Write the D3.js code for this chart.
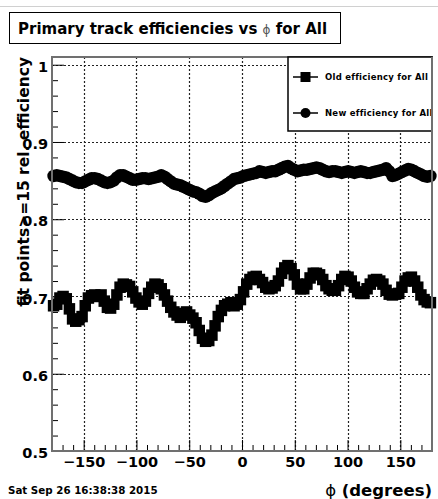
<!DOCTYPE html>
<html>
<head>
<meta charset="utf-8">
<script src="https://cdn.jsdelivr.net/npm/d3@7"></script>
<style>
  body { margin: 0; background: #fff; }
  text { font-family: "DejaVu Sans", sans-serif; font-weight: bold; }
</style>
</head>
<body>
<div id="chart"></div>
<script>
(function(){
  var width = 438,
    height = 499;

  // 120 bins of 3 degrees over -180..180, centres built from the bin edges
  var nBins = 120;
  var phi = d3.range(nBins).map(function(i){ return -178.5 + 3 * i; });

  var oldEff = [0.688, 0.690, 0.698, 0.700, 0.697, 0.684, 0.671, 0.668, 0.670, 0.674,
    0.688, 0.698, 0.701, 0.702, 0.700, 0.702, 0.694, 0.686, 0.685, 0.690,
    0.702, 0.712, 0.716, 0.715, 0.713, 0.706, 0.698, 0.693, 0.690, 0.694,
    0.704, 0.712, 0.716, 0.715, 0.710, 0.702, 0.694, 0.686, 0.680, 0.676,
    0.673, 0.678, 0.680, 0.676, 0.672, 0.666, 0.656, 0.646, 0.642, 0.643,
    0.650, 0.662, 0.674, 0.682, 0.688, 0.690, 0.692, 0.688, 0.690, 0.696,
    0.706, 0.716, 0.722, 0.725, 0.726, 0.722, 0.718, 0.712, 0.710, 0.711,
    0.714, 0.720, 0.730, 0.737, 0.740, 0.736, 0.728, 0.716, 0.710, 0.710,
    0.716, 0.724, 0.730, 0.730, 0.728, 0.722, 0.714, 0.710, 0.708, 0.708,
    0.714, 0.722, 0.726, 0.725, 0.720, 0.712, 0.706, 0.704, 0.704, 0.710,
    0.716, 0.721, 0.722, 0.720, 0.716, 0.708, 0.703, 0.702, 0.703, 0.704,
    0.712, 0.720, 0.724, 0.725, 0.720, 0.712, 0.702, 0.696, 0.693, 0.692];

  var newEff = [0.856, 0.857, 0.856, 0.855, 0.854, 0.852, 0.850, 0.848, 0.847, 0.847,
    0.849, 0.851, 0.853, 0.853, 0.852, 0.850, 0.848, 0.847, 0.848, 0.850,
    0.854, 0.857, 0.857, 0.855, 0.853, 0.851, 0.851, 0.852, 0.853, 0.853,
    0.852, 0.853, 0.854, 0.855, 0.857, 0.855, 0.852, 0.849, 0.846, 0.845,
    0.844, 0.842, 0.840, 0.838, 0.836, 0.835, 0.833, 0.830, 0.829, 0.831,
    0.834, 0.836, 0.838, 0.840, 0.843, 0.846, 0.849, 0.852, 0.853, 0.854,
    0.856, 0.857, 0.858, 0.859, 0.860, 0.862, 0.861, 0.860, 0.861, 0.862,
    0.862, 0.864, 0.866, 0.868, 0.869, 0.866, 0.864, 0.862, 0.863, 0.864,
    0.864, 0.865, 0.866, 0.867, 0.866, 0.864, 0.862, 0.861, 0.862, 0.862,
    0.861, 0.860, 0.861, 0.862, 0.861, 0.860, 0.861, 0.862, 0.861, 0.860,
    0.860, 0.861, 0.862, 0.863, 0.864, 0.866, 0.862, 0.856, 0.857, 0.859,
    0.861, 0.863, 0.865, 0.864, 0.862, 0.860, 0.858, 0.856, 0.855, 0.856];

  var xTicks = [-150, -100, -50, 0, 50, 100, 150];
  var yTicks = [0.5, 0.6, 0.7, 0.8, 0.9, 1];
  var yTickLabels = ["0.5", "0.6", "0.7", "0.8", "0.9", "1"];
  var legendLabels = ["Old efficiency for All", "New efficiency for All"];

  var frame = {left: 52, right: 432, top: 57, bottom: 451};

  var svg = d3.select("#chart")
    .append("svg")
    .attr("width", width)
    .attr("height", height);

  // faint line at the top of the canvas
  svg.append("line")
    .attr("x1", 0).attr("x2", width)
    .attr("y1", 6.5).attr("y2", 6.5)
    .attr("stroke", "#d0d0d0");

  var x = d3.scaleLinear().domain([-180, 180]).range([frame.left, frame.right]);
  var y = d3.scaleLinear().domain([0.5, 1.01]).range([frame.bottom, frame.top]);

  function snap(v){ return Math.round(v) + 0.5; }

  // grid (dotted)
  svg.selectAll(".gx")
    .data(xTicks)
    .enter().append("line")
    .attr("class", "gx")
    .attr("x1", function(d){ return snap(x(d)); })
    .attr("x2", function(d){ return snap(x(d)); })
    .attr("y1", frame.top)
    .attr("y2", frame.bottom)
    .style("stroke", "#222")
    .style("stroke-width", "1.2px")
    .style("stroke-dasharray", "2,2");

  svg.selectAll(".gy")
    .data(yTicks.slice(1))
    .enter().append("line")
    .attr("class", "gy")
    .attr("x1", frame.left)
    .attr("x2", frame.right)
    .attr("y1", function(d){ return snap(y(d)); })
    .attr("y2", function(d){ return snap(y(d)); })
    .style("stroke", "#222")
    .style("stroke-width", "1.2px")
    .style("stroke-dasharray", "2,2");

  // axes: ticks drawn inward, like ROOT
  var xAxis = d3.axisTop(x)
    .tickValues(xTicks)
    .tickSize(11)
    .tickFormat(function(d){ return d3.format("d")(d).replace("-", "\u2212"); });
  var xMinor = d3.axisTop(x)
    .tickValues(d3.range(-170, 180, 10).filter(function(d){ return d % 50 !== 0; }))
    .tickSize(6)
    .tickFormat("");

  var gx = svg.append("g")
    .attr("transform", "translate(0," + frame.bottom + ")")
    .call(xAxis);
  svg.append("g")
    .attr("transform", "translate(0," + frame.bottom + ")")
    .call(xMinor);
  gx.selectAll("text")
    .attr("y", 16)
    .attr("dy", "0")
    .style("font-size", "14.5px")
    .attr("fill", "#000");

  var yAxis = d3.axisRight(y)
    .tickValues(yTicks)
    .tickSize(12)
    .tickFormat(function(d, i){ return yTickLabels[i]; });
  var yMinor = d3.axisRight(y)
    .tickValues(d3.range(0.52, 1.0, 0.02).filter(function(d){ return Math.abs(d * 10 - Math.round(d * 10)) > 0.01; }))
    .tickSize(6)
    .tickFormat("");

  var gy = svg.append("g")
    .attr("transform", "translate(" + frame.left + ",0)")
    .call(yAxis);
  svg.append("g")
    .attr("transform", "translate(" + frame.left + ",0)")
    .call(yMinor);
  gy.selectAll("text")
    .attr("x", -4)
    .attr("dy", "0.45em")
    .attr("text-anchor", "end")
    .style("font-size", "14.5px")
    .attr("fill", "#000");

  svg.selectAll(".domain").remove();
  svg.selectAll(".tick line").attr("stroke", "#000");

  // data markers
  var oldData = phi.map(function(p, i){ return {phi: p, v: oldEff[i]}; });
  var newData = phi.map(function(p, i){ return {phi: p, v: newEff[i]}; });
  var ms = 11.5;

  var plot = svg.append("g");

  plot.selectAll(".old")
    .data(oldData)
    .enter().append("rect")
    .attr("class", "old")
    .attr("x", function(d){ return x(d.phi) - ms / 2; })
    .attr("y", function(d){ return y(d.v) - ms / 2; })
    .attr("width", ms)
    .attr("height", ms)
    .attr("fill", "#000");

  plot.selectAll(".new")
    .data(newData)
    .enter().append("circle")
    .attr("class", "new")
    .attr("cx", function(d){ return x(d.phi); })
    .attr("cy", function(d){ return y(d.v); })
    .attr("r", ms / 2 + 0.5)
    .attr("fill", "#000");

  // frame
  svg.append("rect")
    .attr("x", frame.left)
    .attr("y", frame.top)
    .attr("width", frame.right - frame.left)
    .attr("height", frame.bottom - frame.top)
    .attr("fill", "none")
    .attr("stroke", "#707070")
    .attr("stroke-width", 2);

  // legend
  var lg = {x: 288, y: 57, w: 144, h: 74};

  var legend = svg.append("g");
  legend.append("rect")
    .attr("x", lg.x).attr("y", lg.y)
    .attr("width", lg.w).attr("height", lg.h)
    .attr("fill", "#fff")
    .attr("stroke", "#000")
    .attr("stroke-width", 1.5);

  var entries = legend.selectAll(".entry")
    .data(legendLabels)
    .enter().append("g")
    .attr("class", "entry")
    .attr("transform", function(d, i){ return "translate(0," + (77 + i * 36) + ")"; });

  entries.append("line")
    .attr("x1", 293).attr("x2", 318)
    .attr("y1", 0).attr("y2", 0)
    .attr("stroke", "#000")
    .attr("stroke-width", 1.5);

  entries.filter(function(d, i){ return i === 0; })
    .append("rect")
    .attr("x", 305.5 - 5).attr("y", -5)
    .attr("width", 10).attr("height", 10)
    .attr("fill", "#000");

  entries.filter(function(d, i){ return i === 1; })
    .append("circle")
    .attr("cx", 305.5).attr("cy", 0)
    .attr("r", 5)
    .attr("fill", "#000");

  entries.append("text")
    .attr("x", 325)
    .attr("y", 3)
    .style("font-size", "8.5px")
    .style("letter-spacing", "0.25px")
    .text(function(d){ return d; });

  // right frame edge on top of legend
  svg.append("line")
    .attr("x1", frame.right).attr("x2", frame.right)
    .attr("y1", frame.top).attr("y2", frame.bottom)
    .attr("stroke", "#707070")
    .attr("stroke-width", 2);

  // title box
  svg.append("rect")
    .attr("x", 9.5).attr("y", 12.5)
    .attr("width", 331).attr("height", 31)
    .attr("fill", "#fff")
    .attr("stroke", "#000")
    .attr("stroke-width", 1);

  var title = svg.append("text")
    .attr("x", 18)
    .attr("y", 34)
    .style("font-size", "15px");
  title.append("tspan").text("Primary track efficiencies vs ");
  title.append("tspan").style("font-weight", "normal").style("font-size", "12px").attr("fill", "#555").text("\u03d5");
  title.append("tspan").text(" for All");

  // axis titles
  svg.append("text")
    .attr("transform", "translate(29," + frame.top + ") rotate(-90)")
    .attr("text-anchor", "end")
    .style("font-size", "15.5px")
    .text("fit points>=15 rel. efficiency");

  var xt = svg.append("text")
    .attr("x", frame.right)
    .attr("y", 496)
    .attr("text-anchor", "end")
    .style("font-size", "16.5px");
  xt.append("tspan").style("font-weight", "normal").text("\u03d5");
  xt.append("tspan").text(" (degrees)");

  svg.append("text")
    .attr("x", 8)
    .attr("y", 494)
    .style("font-size", "10.3px")
    .text("Sat Sep 26 16:38:38 2015");
})();
</script>
</body>
</html>
